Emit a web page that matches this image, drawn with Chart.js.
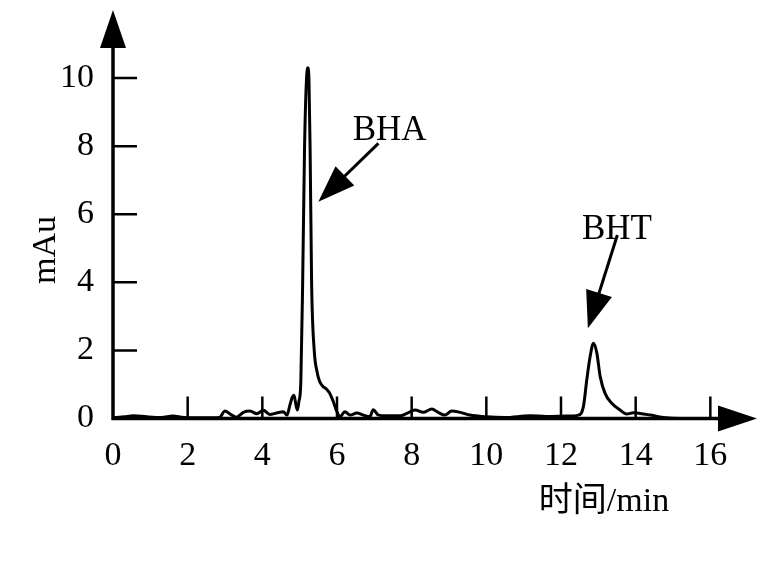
<!DOCTYPE html>
<html>
<head>
<meta charset="utf-8">
<script src="https://cdn.jsdelivr.net/npm/chart.js@4.4.1/dist/chart.umd.min.js"></script>
<style>
    html, body { margin: 0; padding: 0; background: #fff; }
    #wrap { width: 766px; height: 584px; position: relative; }
</style>
</head>
<body>
<div id="wrap"><canvas id="chromatogram"></canvas></div>
<script>
// 色谱图数据 (保留时间 / min, 吸收 / mAu)
const retentionTime = [
    0, 0.3, 0.55, 0.9, 1.3, 1.6, 1.9, 2.5, 2.85, 3.0,
    3.15, 3.31, 3.49, 3.67, 3.85, 4.03, 4.2, 4.38, 4.56, 4.66,
    4.74, 4.8, 4.85, 4.9, 4.94, 4.98, 5.03, 5.08, 5.13, 5.18,
    5.22, 5.25, 5.28, 5.32, 5.39, 5.46, 5.53, 5.62, 5.72, 5.8,
    5.9, 5.99, 6.08, 6.21, 6.35, 6.53, 6.7, 6.88, 6.97, 7.11,
    7.33, 7.69, 7.87, 8.09, 8.31, 8.54, 8.71, 8.89, 9.07, 9.3,
    9.56, 10.0, 10.5, 11.17, 11.6, 12.15, 12.47, 12.6, 12.69, 12.78,
    12.87, 12.96, 13.05, 13.18, 13.36, 13.58, 13.76, 13.94, 14.12, 14.39,
    14.74, 15.2, 16
];
const absorbance = [
    0.02, 0.05, 0.08, 0.05, 0.03, 0.07, 0.03, 0.02, 0.03, 0.22,
    0.12, 0.04, 0.18, 0.22, 0.14, 0.24, 0.12, 0.16, 0.2, 0.1,
    0.4, 0.62, 0.68, 0.4, 0.25, 0.5, 1.04, 3.98, 7.9, 9.9,
    10.3, 9.9, 7.9, 3.98, 2.0, 1.4, 1.1, 0.95, 0.86, 0.75,
    0.5, 0.22, 0.05, 0.2, 0.1, 0.16, 0.1, 0.05, 0.26, 0.1,
    0.08, 0.08, 0.15, 0.25, 0.18, 0.28, 0.18, 0.1, 0.22, 0.18,
    0.1, 0.05, 0.03, 0.08, 0.06, 0.07, 0.1, 0.35, 1.13, 1.82,
    2.21, 1.92, 1.23, 0.74, 0.45, 0.25, 0.13, 0.17, 0.15, 0.1,
    0.03, 0.0, 0.0
];

const xTicks = [0, 2, 4, 6, 8, 10, 12, 14, 16];
const yTicks = [0, 2, 4, 6, 8, 10];
const xAxisEnd = 17.25;   // 箭头尖端
const yAxisEnd = 12;

const xTitle = '时间/min';
const yTitle = 'mAu';

// 峰标注: 文字位置, 箭头起点, 箭头尖端 (数据坐标)
const peakNames = ['BHA', 'BHT'];
const labelPos = [[6.42, 8.18], [12.56, 5.27]];
const arrowTail = [[7.11, 8.08], [13.51, 5.39]];
const arrowTip = [[5.50, 6.37], [12.72, 2.65]];

const FONT = '"Liberation Serif", "Times New Roman", "Noto Sans CJK SC", serif';

function drawArrowHead(ctx, fx, fy, tx, ty, len, width) {
    const ang = Math.atan2(ty - fy, tx - fx);
    const bx = tx - len * Math.cos(ang), by = ty - len * Math.sin(ang);
    const nx = -Math.sin(ang) * width / 2, ny = Math.cos(ang) * width / 2;
    ctx.beginPath();
    ctx.moveTo(tx, ty);
    ctx.lineTo(bx + nx, by + ny);
    ctx.lineTo(bx - nx, by - ny);
    ctx.closePath();
    ctx.fill();
}

const axesPlugin = {
    id: 'axesPlugin',
    beforeDatasetsDraw(chart) {
        const { ctx, scales: { x, y } } = chart;
        const x0 = x.getPixelForValue(0), y0 = y.getPixelForValue(0);
        const xEnd = x.getPixelForValue(xAxisEnd), yEnd = y.getPixelForValue(yAxisEnd);
        ctx.save();
        ctx.strokeStyle = '#000';
        ctx.fillStyle = '#000';

        ctx.lineWidth = 3.5;
        ctx.beginPath();
        ctx.moveTo(x0, y0 + 1.5);
        ctx.lineTo(x0, yEnd + 30);
        ctx.moveTo(x0 - 1.5, y0);
        ctx.lineTo(xEnd - 30, y0);
        ctx.stroke();
        drawArrowHead(ctx, x0, y0, x0, yEnd, 38, 26);
        drawArrowHead(ctx, x0, y0, xEnd, y0, 39, 26);

        ctx.lineWidth = 2.5;
        ctx.beginPath();
        xTicks.forEach(v => {
            if (v === 0) return;
            const px = x.getPixelForValue(v);
            ctx.moveTo(px, y0);
            ctx.lineTo(px, y0 - 22);
        });
        yTicks.forEach(v => {
            if (v === 0) return;
            const py = y.getPixelForValue(v);
            ctx.moveTo(x0, py);
            ctx.lineTo(x0 + 24, py);
        });
        ctx.stroke();
        ctx.restore();
    },
    afterDatasetsDraw(chart) {
        const { ctx, scales: { x, y }, chartArea } = chart;
        ctx.save();
        ctx.fillStyle = '#000';
        ctx.strokeStyle = '#000';

        // 峰标注
        ctx.font = '35px ' + FONT;
        ctx.textAlign = 'left';
        ctx.textBaseline = 'alphabetic';
        peakNames.forEach((name, i) => {
            ctx.fillText(name, x.getPixelForValue(labelPos[i][0]), y.getPixelForValue(labelPos[i][1]));
            const fx = x.getPixelForValue(arrowTail[i][0]), fy = y.getPixelForValue(arrowTail[i][1]);
            const tx = x.getPixelForValue(arrowTip[i][0]), ty = y.getPixelForValue(arrowTip[i][1]);
            const ang = Math.atan2(ty - fy, tx - fx);
            ctx.lineWidth = 3;
            ctx.beginPath();
            ctx.moveTo(fx, fy);
            ctx.lineTo(tx - 30 * Math.cos(ang), ty - 30 * Math.sin(ang));
            ctx.stroke();
            drawArrowHead(ctx, fx, fy, tx, ty, 37, 27);
        });

        // 坐标轴标题
        ctx.font = '34px ' + FONT;
        ctx.textAlign = 'center';
        ctx.fillText(xTitle, chartArea.right - 153, chartArea.bottom + 92);
        ctx.translate(55, 250);
        ctx.rotate(-Math.PI / 2);
        ctx.fillText(yTitle, 0, 0);
        ctx.restore();
    }
};

const tickFont = { family: FONT, size: 34 };

new Chart(document.getElementById('chromatogram'), {
    type: 'line',
    data: {
        datasets: [{
            data: retentionTime.map((t, i) => ({ x: t, y: absorbance[i] })),
            borderColor: '#000',
            borderWidth: 3,
            pointRadius: 0,
            cubicInterpolationMode: 'monotone',
            fill: false,
            clip: false,
        }]
    },
    options: {
        responsive: true,
        maintainAspectRatio: false,
        animation: false,
        layout: { padding: { left: 0, top: 10, right: 9, bottom: 0 } },
        plugins: {
            legend: { display: false },
            tooltip: { enabled: false },
        },
        scales: {
            x: {
                type: 'linear',
                min: 0,
                max: xAxisEnd,
                grid: { display: false, drawTicks: false },
                border: { display: false },
                afterBuildTicks: s => { s.ticks = xTicks.map(v => ({ value: v })); },
                afterFit: s => {
                    s.height = 584 - 418.5;
                    s.paddingLeft = 0;
                    s.paddingRight = 0;
                },
                ticks: { color: '#000', font: tickFont, padding: 17, maxRotation: 0, autoSkip: false }
            },
            y: {
                type: 'linear',
                min: 0,
                max: yAxisEnd,
                grid: { display: false, drawTicks: false },
                border: { display: false },
                afterBuildTicks: s => { s.ticks = yTicks.map(v => ({ value: v })); },
                afterFit: s => {
                    s.width = 113;
                    s.paddingTop = 0;
                    s.paddingBottom = 0;
                },
                ticks: { color: '#000', font: tickFont, padding: 19, autoSkip: false }
            }
        }
    },
    plugins: [axesPlugin]
});
</script>
</body>
</html>
